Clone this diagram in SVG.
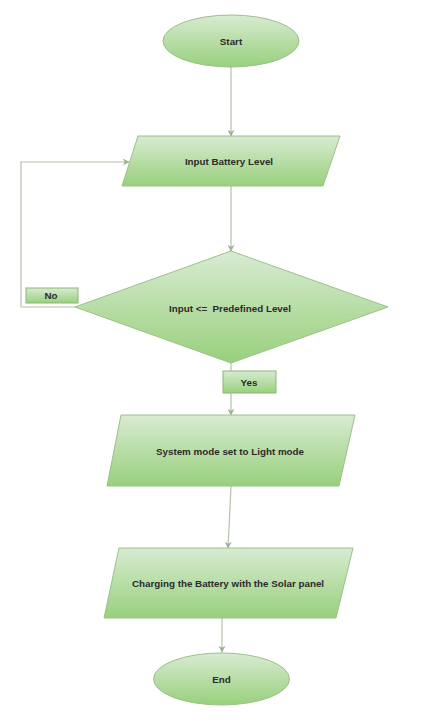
<svg xmlns="http://www.w3.org/2000/svg" width="421" height="726" viewBox="0 0 421 726">
<style>
.shape{fill:url(#g);stroke:#9cc08a;stroke-width:1}
.lbl{fill:url(#g);stroke:#8fb47c;stroke-width:1}
.t{font-family:"Liberation Sans",Arial,sans-serif;font-size:9.8px;font-weight:bold;fill:#2b2b2b;text-anchor:middle;dominant-baseline:central}
.c{fill:none;stroke:#b3c2aa;stroke-width:1.2}
</style>
<defs>
<linearGradient id="g" x1="0" y1="0" x2="0" y2="1">
<stop offset="0" stop-color="#d8ebd2"/>
<stop offset="1" stop-color="#98d07c"/>
</linearGradient>
<marker id="a" viewBox="0 0 10 10" refX="9" refY="5" markerWidth="7" markerHeight="7" orient="auto" markerUnits="userSpaceOnUse">
<path d="M0,0 L10,5 L0,10 L3,5 Z" fill="#9fb296"/>
</marker>
</defs>
<rect width="421" height="726" fill="#ffffff"/>
<g id="connectors">
<path class="c" d="M231,67 V136" marker-end="url(#a)"/>
<path class="c" d="M231,186 V251" marker-end="url(#a)"/>
<path class="c" d="M75,307 H21 V162 H129" marker-end="url(#a)"/>
<path class="c" d="M231,363 V415" marker-end="url(#a)"/>
<path class="c" d="M231,486 L228,548" marker-end="url(#a)"/>
<path class="c" d="M222,618 V652" marker-end="url(#a)"/>
</g>
<g id="start">
<ellipse class="shape" cx="231" cy="41" rx="68" ry="26"/>
<text class="t" x="231" y="41">Start</text>
</g>
<g id="input">
<polygon class="shape" points="138,136 340,136 323,186 122,186"/>
<text class="t" x="229" y="161">Input Battery Level</text>
</g>
<g id="decision">
<polygon class="shape" points="231,251 388,307 231,363 75,307"/>
<text class="t" x="230" y="308" xml:space="preserve">Input &lt;=  Predefined Level</text>
</g>
<g id="no-label">
<rect class="lbl" x="26" y="288" width="52" height="15"/>
<text class="t" x="51" y="295.5">No</text>
</g>
<g id="yes-label">
<rect class="lbl" x="223" y="371" width="53" height="22"/>
<text class="t" x="249" y="382">Yes</text>
</g>
<g id="light-mode">
<polygon class="shape" points="121,415 355,415 339,486 107,486"/>
<text class="t" x="230" y="451">System mode set to Light mode</text>
</g>
<g id="charging">
<polygon class="shape" points="119,548 353,548 336,618 104,618"/>
<text class="t" x="228" y="583">Charging the Battery with the Solar panel</text>
</g>
<g id="end">
<ellipse class="shape" cx="221.5" cy="679" rx="68" ry="26"/>
<text class="t" x="221.5" y="679">End</text>
</g>
</svg>
